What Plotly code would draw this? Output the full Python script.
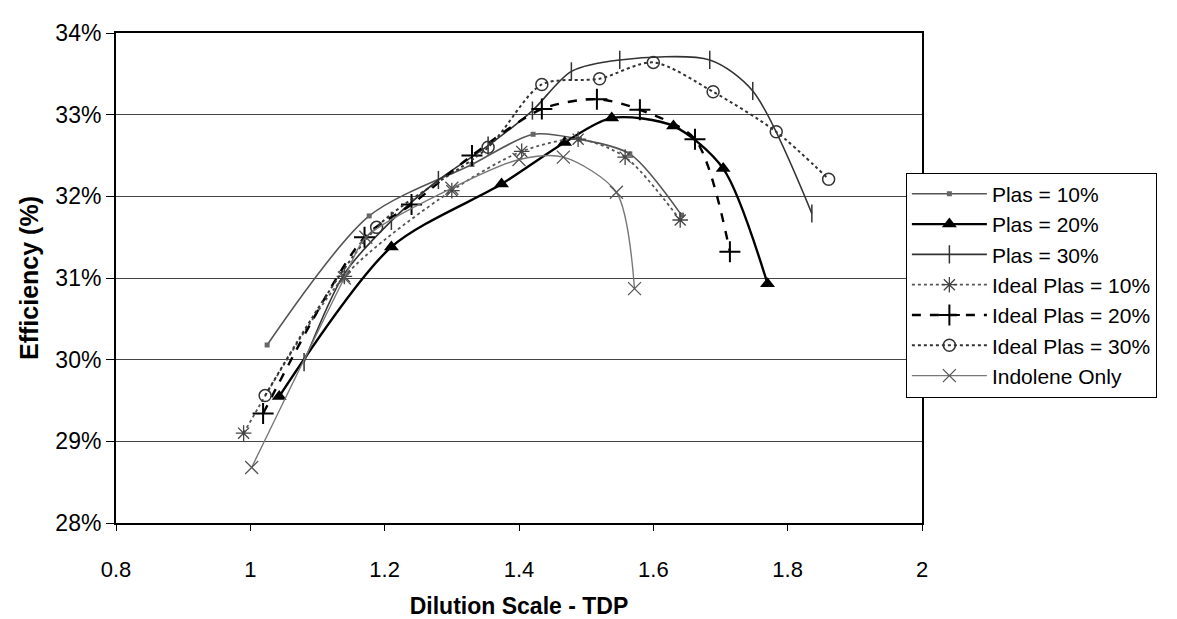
import plotly.graph_objects as go

# values (x = dilution scale TDP, y = efficiency %)
plas10_x = [1.025, 1.177, 1.33, 1.421, 1.49, 1.565, 1.642]
plas10_y = [30.18, 31.76, 32.39, 32.76, 32.70, 32.52, 31.77]

plas20_x = [1.043, 1.21, 1.374, 1.468, 1.538, 1.63, 1.704, 1.77]
plas20_y = [29.55, 31.38, 32.15, 32.66, 32.96, 32.86, 32.34, 30.93]

plas30_x = [1.08, 1.14, 1.21, 1.28, 1.354, 1.42, 1.478, 1.55, 1.684, 1.748, 1.836]
plas30_y = [29.97, 31.05, 31.7, 32.2, 32.62, 33.05, 33.53, 33.67, 33.67, 33.29, 31.79]

ideal10_x = [0.99, 1.14, 1.30, 1.404, 1.488, 1.558, 1.64]
ideal10_y = [29.10, 31.02, 32.07, 32.55, 32.70, 32.48, 31.71]

ideal20_x = [1.019, 1.17, 1.24, 1.33, 1.434, 1.516, 1.58, 1.662, 1.714]
ideal20_y = [29.34, 31.5, 31.9, 32.5, 33.07, 33.19, 33.06, 32.70, 31.32]

ideal30_x = [1.022, 1.188, 1.354, 1.434, 1.52, 1.60, 1.689, 1.783, 1.861]
ideal30_y = [29.56, 31.62, 32.60, 33.37, 33.44, 33.64, 33.28, 32.79, 32.21]

indolene_x = [1.002, 1.14, 1.172, 1.30, 1.40, 1.466, 1.545, 1.572]
indolene_y = [28.68, 31.0, 31.5, 32.1, 32.45, 32.48, 32.05, 30.87]

series = [
    ("Plas = 10%", plas10_x, plas10_y,
     dict(color="#555555", width=1.6, dash="solid"),
     dict(symbol="square", size=5, color="#666666")),
    ("Plas = 20%", plas20_x, plas20_y,
     dict(color="black", width=2.4, dash="solid"),
     dict(symbol="triangle-up", size=13, color="black")),
    ("Plas = 30%", plas30_x, plas30_y,
     dict(color="#333333", width=1.6, dash="solid"),
     dict(symbol="line-ns", size=13, color="#333333", line=dict(color="#333333", width=1.5))),
    ("Ideal Plas = 10%", ideal10_x, ideal10_y,
     dict(color="#555555", width=1.8, dash="dot"),
     dict(symbol="asterisk-open", size=13, color="#444444", line=dict(color="#444444", width=1.3))),
    ("Ideal Plas = 20%", ideal20_x, ideal20_y,
     dict(color="black", width=2.4, dash="dash"),
     dict(symbol="cross-thin-open", size=15, color="black", line=dict(color="black", width=2))),
    ("Ideal Plas = 30%", ideal30_x, ideal30_y,
     dict(color="#333333", width=2, dash="dot"),
     dict(symbol="circle-open", size=12, color="#333333", line=dict(color="#333333", width=1.5))),
    ("Indolene Only", indolene_x, indolene_y,
     dict(color="#777777", width=1.4, dash="solid"),
     dict(symbol="x-thin-open", size=13, color="#555555", line=dict(color="#555555", width=1.3))),
]

fig = go.Figure()

for name, xs, ys, line, marker in series:
    fig.add_trace(go.Scatter(
        x=xs,
        y=ys,
        name=name,
        mode="lines+markers",
        line=dict(shape="spline", smoothing=0.8, **line),
        marker=marker,
    ))

fig.update_layout(
    width=1177,
    height=619,
    margin=dict(l=108, r=263, t=14, b=100),
    paper_bgcolor="white",
    plot_bgcolor="white",
    font=dict(family="Liberation Sans, Arial, sans-serif", size=22, color="black"),
    legend=dict(
        x=0.98, y=0.715, xanchor="left", yanchor="top",
        bordercolor="black", borderwidth=1, bgcolor="white",
        font=dict(size=21), itemwidth=75, tracegroupgap=0,
    ),
    showlegend=True,
)

fig.update_xaxes(
    range=[0.8, 2.0], dtick=0.2, tickformat="~g",
    showgrid=False, zeroline=False,
    showline=True, linecolor="black", linewidth=2, mirror=True,
    ticks="outside", ticklen=6, tickcolor="black",
    tickfont=dict(size=22), ticklabelstandoff=20,
    title=dict(text="<b>Dilution Scale - TDP</b>", font=dict(size=23), standoff=16),
)

fig.update_yaxes(
    range=[28, 34], dtick=1,
    tickvals=[28, 29, 30, 31, 32, 33, 34],
    ticktext=["28%", "29%", "30%", "31%", "32%", "33%", "34%"],
    showgrid=True, gridcolor="#444444", gridwidth=1, zeroline=False,
    showline=True, linecolor="black", linewidth=2, mirror=True,
    ticks="outside", ticklen=8, tickcolor="black",
    tickfont=dict(size=23),
    title=dict(text="<b>Efficiency (%)</b>", font=dict(size=25), standoff=10),
)

fig.write_html("out.html")
